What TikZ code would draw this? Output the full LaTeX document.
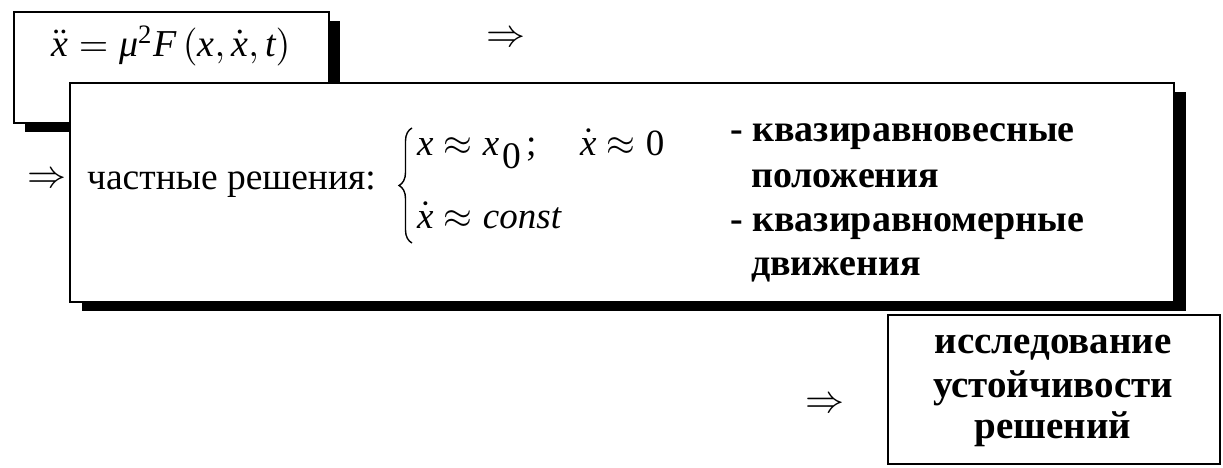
\documentclass[tikz,border=0pt]{standalone}
\usepackage{amsmath}
\usepackage{graphicx}
\usepackage{fontspec}
\setmainfont{Liberation Serif}
\usetikzlibrary{decorations.pathreplacing,shadows}
\newcommand{\tx}[1]{\text{\itshape #1}}
\newcommand{\bigmath}[2]{\scalebox{#1}{\fontsize{10}{12}\selectfont$#2$}}
\begin{document}
\begin{tikzpicture}[x=1pt,y=-1pt,
  frame/.style={draw=black,line width=2pt,fill=white,inner sep=0pt,anchor=north west},
  shadowed/.style={drop shadow={shadow xshift=#1,shadow yshift=-9pt,fill=black,opacity=1}},
  regtext/.style={font=\fontsize{37.5}{44}\selectfont,inner sep=0pt,anchor=base west},
  boldtext/.style={font=\fontsize{38}{44}\selectfont\bfseries,inner sep=0pt,anchor=base west},
  boldcenter/.style={font=\fontsize{39}{44}\selectfont\bfseries,inner sep=0pt,anchor=base},
  mathtext/.style={inner sep=0pt,anchor=base west},
  arrowsym/.style={inner sep=0pt}]
\useasboundingbox (0,0) rectangle (1223,468);
\fill[white] (0,0) rectangle (1223,468);
% boxes
\node[frame,shadowed=11pt,minimum width=315pt,minimum height=111pt] (eqbox) at (13,11) {};
\node[frame,shadowed=12pt,minimum width=1104pt,minimum height=219pt] (solbox) at (69,82) {};
\node[frame,minimum width=332pt,minimum height=149pt] (stabbox) at (887,314) {};
% equation
\node[inner sep=0pt,anchor=base] (eq) at (171,57)
  {\bigmath{3.8}{\ddot{\tx{x}}=\tx{μ}^{\text{2}}\tx{F}\,(\tx{x},\dot{\tx{x}},\tx{t})}};
% arrows
\node[arrowsym] (arrtop) at (506,39) {\bigmath{3.9}{\Rightarrow}};
\node[arrowsym] (arrleft) at (47,180) {\bigmath{3.9}{\Rightarrow}};
\node[arrowsym] (arrbot) at (825,405) {\bigmath{3.9}{\Rightarrow}};
% particular solutions
\node[regtext] (partsol) at (87,189) {частные решения:};
\coordinate (bracebot) at (412,243);
\coordinate (bracetop) at (412,128);
\draw[decorate,decoration={brace,amplitude=13pt},line width=1.4pt] (bracebot) -- (bracetop);
\node[mathtext] (l1a) at (417,155) {\bigmath{3.7}{\tx{x}\approx\tx{x}}};
\node[regtext] (l1b) at (502,168) {0};
\node[regtext] (l1c) at (526,155) {;};
\node[mathtext] (l1d) at (580,155) {\bigmath{3.7}{\dot{\tx{x}}\approx\text{0}}};
\node[mathtext] (l2) at (417,228) {\bigmath{3.7}{\dot{\tx{x}}\approx\tx{const}}};
% descriptions
\node[boldtext] (d1) at (730,142) {- квазиравновесные};
\node[boldtext] (d2) at (751,187) {положения};
\node[boldtext] (d3) at (730,231) {- квазиравномерные};
\node[boldtext] (d4) at (751,275) {движения};
% stability box text
\node[boldcenter] (s1) at (1053,353) {исследование};
\node[boldcenter] (s2) at (1053,397) {устойчивости};
\node[boldcenter] (s3) at (1053,438) {решений};
\end{tikzpicture}
\end{document}
